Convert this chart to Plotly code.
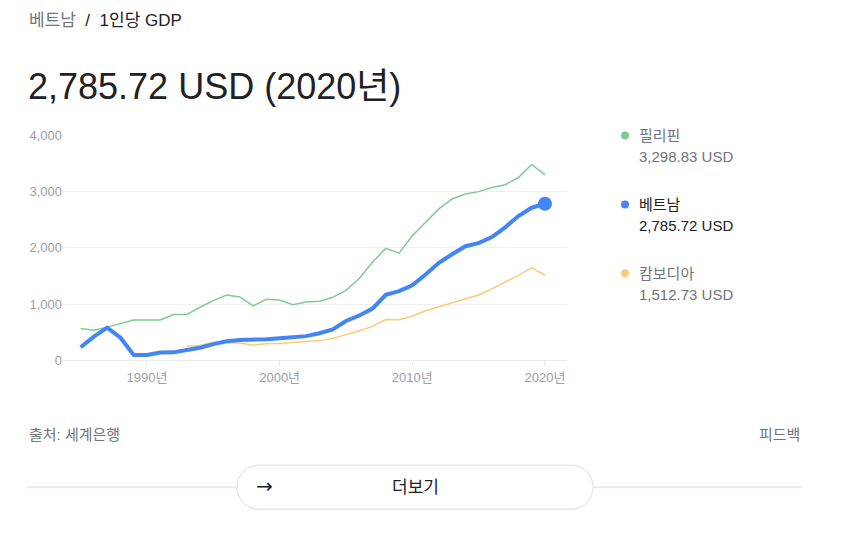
import numpy as np
import plotly.graph_objects as go

# 1인당 GDP (현재 USD), 세계은행
years = list(range(1985, 2021))
vietnam = [231, 422, 580, 402, 94, 95, 138, 141, 183, 223, 288, 337, 361, 361, 375, 390,
           405, 430, 481, 548, 700, 797, 919, 1165, 1232, 1334, 1525, 1735, 1887, 2030,
           2085, 2192, 2366, 2567, 2715, 2785.72]
philippines = [565, 536, 590, 654, 715, 715, 716, 815, 816, 944, 1062, 1160, 1127, 967, 1086,
               1073, 990, 1036, 1049, 1121, 1245, 1455, 1745, 1991, 1906, 2217, 2451, 2694,
               2871, 2960, 3001, 3074, 3123, 3252, 3485, 3298.83]
cambodia_years = list(range(1993, 2021))
cambodia = [251, 264, 320, 316, 306, 269, 293, 300, 315, 330, 350, 390, 454, 520, 603, 725,
            720, 783, 882, 950, 1017, 1095, 1163, 1270, 1385, 1512, 1643, 1512.73]

xtick_vals = [1990, 2000, 2010, 2020]
xtick_text = ["1990년", "2000년", "2010년", "2020년"]
ytick_vals = [0, 1000, 2000, 3000, 4000]

# the page puts the figure 8px in from the left and squeezes it a little vertically,
# so map target screen pixels back to figure coordinates
OX = 8
OY, SY = 14.4, 0.973
W, H = 850 - OX, 538
FONT = "Arial, 'Liberation Sans', 'Noto Sans CJK KR', sans-serif"
GREEN, BLUE, ORANGE = "#81c995", "#4285f4", "#fbcb7a"


def px(x):
    return (x - OX) / W


def py(y):
    return 1 - ((y - OY) / SY) / H


fig = go.Figure()
fig.add_trace(go.Scatter(x=years, y=philippines, mode="lines",
                         line=dict(color=GREEN, width=1.5), hoverinfo="skip"))
fig.add_trace(go.Scatter(x=cambodia_years, y=cambodia, mode="lines",
                         line=dict(color=ORANGE, width=1.5), hoverinfo="skip"))
fig.add_trace(go.Scatter(x=years, y=vietnam, mode="lines",
                         line=dict(color=BLUE, width=4), hoverinfo="skip"))
fig.add_trace(go.Scatter(x=[years[-1]], y=[vietnam[-1]], mode="markers",
                         marker=dict(color=BLUE, size=14), hoverinfo="skip"))

anns = []
shapes = []

# header
anns.append(dict(x=px(27), y=py(20), xref="paper", yref="paper", xanchor="left",
                 yanchor="middle", showarrow=False,
                 text="<span style='color:#70757a'>베트남</span>  /  1인당 GDP",
                 font=dict(size=17, color="#202124", family=FONT)))
anns.append(dict(x=px(26), y=py(86), xref="paper", yref="paper", xanchor="left",
                 yanchor="middle", showarrow=False,
                 text=f"{vietnam[-1]:,.2f} USD ({years[-1]}년)",
                 font=dict(size=36, color="#202124", family=FONT)))

# legend
legend = [("필리핀", philippines[-1], GREEN, 135, "#70757a"),
          ("베트남", vietnam[-1], BLUE, 204, "#202124"),
          ("캄보디아", cambodia[-1], ORANGE, 273, "#70757a")]
for name, val, col, ty, tc in legend:
    shapes.append(dict(type="circle", xref="paper", yref="paper",
                       x0=px(621), x1=px(629), y0=py(ty + 4), y1=py(ty - 4),
                       fillcolor=col, line=dict(width=0)))
    anns.append(dict(x=px(637), y=py(ty), xref="paper", yref="paper", xanchor="left",
                     yanchor="middle", showarrow=False, text=name,
                     font=dict(size=15, color=tc, family=FONT)))
    anns.append(dict(x=px(637), y=py(ty + 21), xref="paper", yref="paper", xanchor="left",
                     yanchor="middle", showarrow=False, text=f"{val:,.2f} USD",
                     font=dict(size=15, color=tc, family=FONT)))

# footer
anns.append(dict(x=px(27), y=py(434), xref="paper", yref="paper", xanchor="left",
                 yanchor="middle", showarrow=False, text="출처: 세계은행",
                 font=dict(size=15, color="#70757a", family=FONT)))
anns.append(dict(x=px(802), y=py(434), xref="paper", yref="paper", xanchor="right",
                 yanchor="middle", showarrow=False, text="피드백",
                 font=dict(size=15, color="#70757a", family=FONT)))

# divider + button
for x0, x1 in [(27, 237), (593, 802)]:
    shapes.append(dict(type="line", xref="paper", yref="paper", x0=px(x0), x1=px(x1),
                       y0=py(487), y1=py(487), line=dict(color="#e8eaed", width=2)))
bx0, bx1, by0, by1 = 237, 593, 465, 509
r = (by1 - by0) / 2
cy = (by0 + by1) / 2
t = np.linspace(np.pi / 2, 3 * np.pi / 2, 24)
left = [(bx0 + r + r * np.cos(a), cy - r * np.sin(a)) for a in t]
t2 = np.linspace(-np.pi / 2, np.pi / 2, 24)
right = [(bx1 - r + r * np.cos(a), cy - r * np.sin(a)) for a in t2]
pts = left + right
path = "M " + " L ".join(f"{px(x):.5f},{py(y):.5f}" for x, y in pts) + " Z"
shapes.append(dict(type="path", xref="paper", yref="paper", path=path,
                   fillcolor="white", line=dict(color="#dadce0", width=1)))
anns.append(dict(x=px(264), y=py(486), xref="paper", yref="paper", xanchor="center",
                 yanchor="middle", showarrow=False, text="→",
                 font=dict(size=20, color="#202124", family="'DejaVu Sans'")))
anns.append(dict(x=px(415), y=py(487), xref="paper", yref="paper", xanchor="center",
                 yanchor="middle", showarrow=False, text="더보기",
                 font=dict(size=17, color="#202124", family=FONT)))

fig.update_layout(
    width=W, height=H, margin=dict(l=0, r=0, t=0, b=0),
    paper_bgcolor="white", plot_bgcolor="white", showlegend=False,
    font=dict(family=FONT, color="#9aa0a6", size=13),
    xaxis=dict(domain=[px(63), px(567)], range=[1983.67, 2021.66], tickvals=xtick_vals,
               ticktext=xtick_text, showgrid=False, zeroline=False, showline=True,
               linecolor="#e8eaed", linewidth=1, ticks="outside", ticklen=5,
               tickcolor="#e8eaed", tickfont=dict(size=13, color="#9aa0a6")),
    yaxis=dict(domain=[py(360), py(135)], range=[0, 4000], tickvals=ytick_vals,
               tickformat=",", showgrid=True, gridcolor="#efefef", gridwidth=1,
               zeroline=False, ticks="", tickfont=dict(size=13, color="#9aa0a6")),
    shapes=shapes, annotations=anns,
)

fig.write_html("out.html")
